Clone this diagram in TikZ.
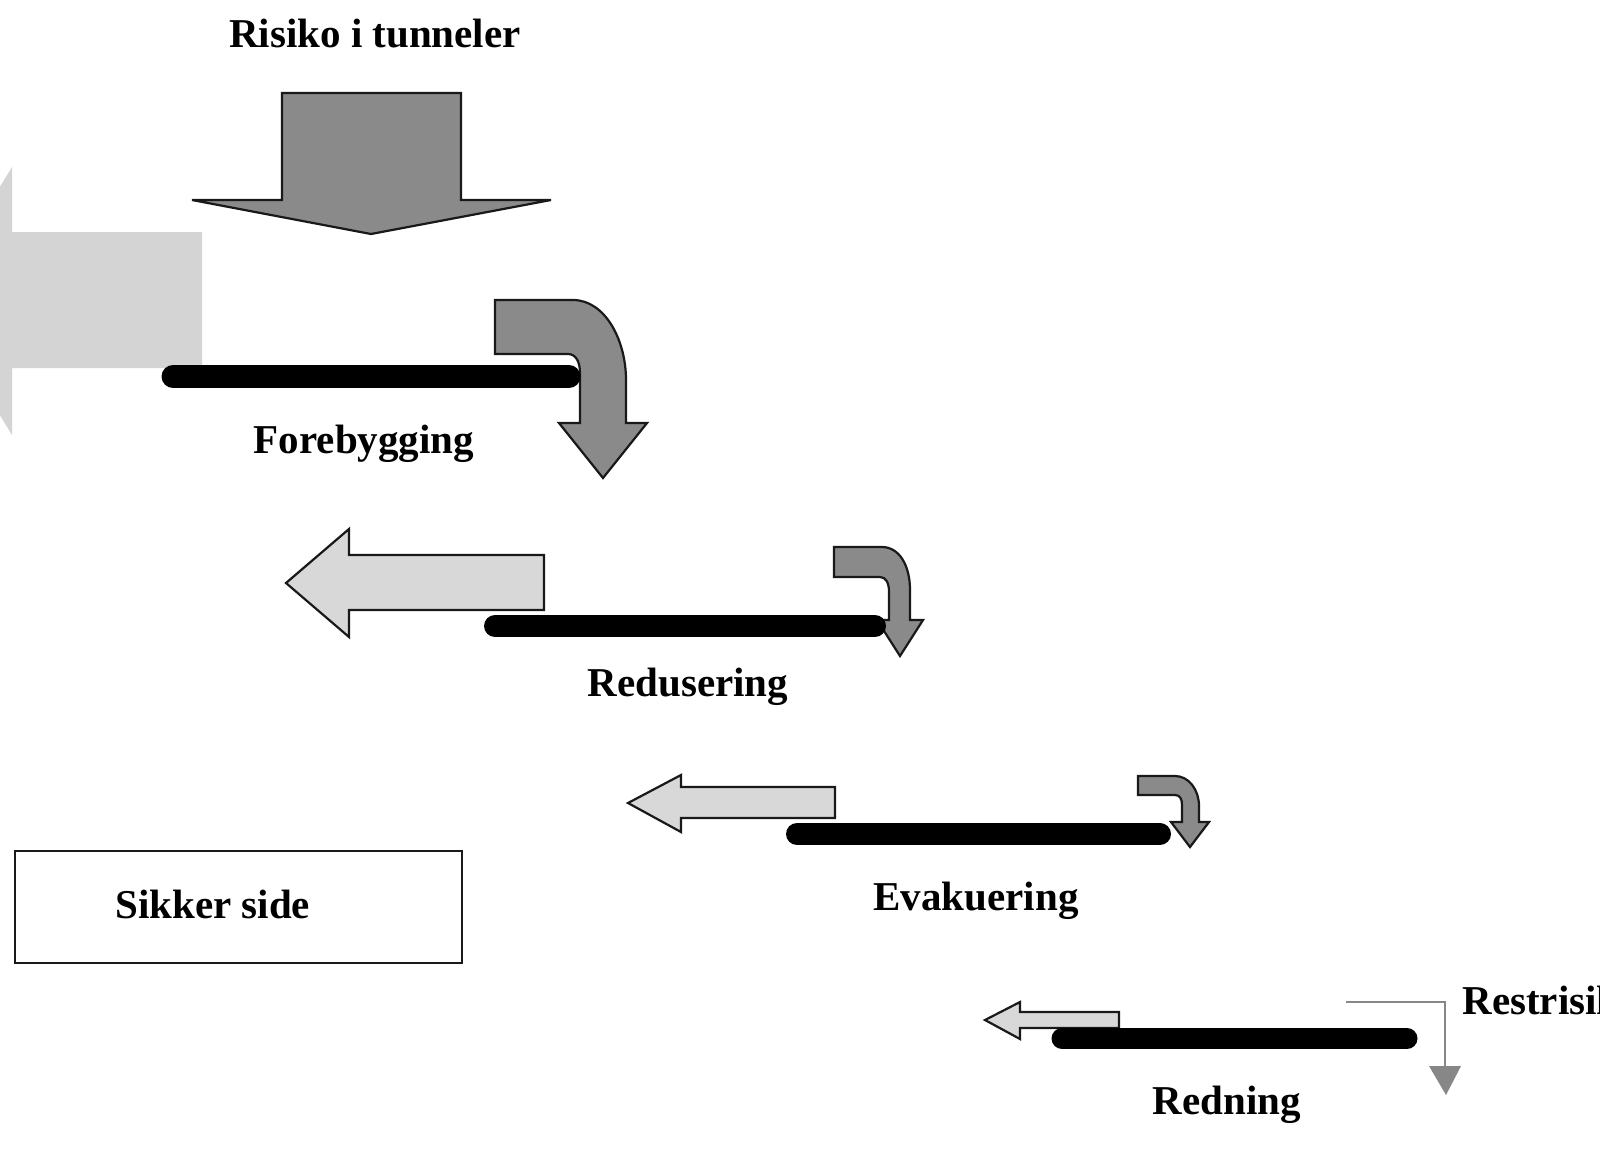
\documentclass[tikz,border=0pt]{standalone}
\usepackage{fontspec}
\setmainfont{Liberation Serif}
\begin{document}
\begin{tikzpicture}[x=0.5pt,y=-0.5pt,
  darkarrow/.style={fill=darkfill, draw=outl, line width=1.1pt, line join=miter},
  lightarrow/.style={fill=lightfill, draw=outl, line width=1.1pt, line join=miter},
  fadedarrow/.style={fill=fadefill},
  bar/.style={line cap=round, draw=black},
  lbl/.style={font=\fontsize{20.5}{24}\selectfont\bfseries, inner sep=0pt, text=black},
  thinconn/.style={draw=connc, line width=1.1pt},
  framebox/.style={draw=outl, line width=1.3pt}]
\definecolor{darkfill}{RGB}{138,138,138}
\definecolor{lightfill}{RGB}{216,216,216}
\definecolor{fadefill}{RGB}{212,212,212}
\definecolor{outl}{RGB}{25,25,25}
\definecolor{connc}{RGB}{135,135,135}
\useasboundingbox[fill=white] (0,0) rectangle (1600,1168);
\clip (0,0) rectangle (1600,1168);

% title and big down arrow
\node[lbl, anchor=base] (title) at (375,47) {Risiko i tunneler};
\draw[darkarrow] (282,93) -- (461,93) -- (461,200) -- (551,200) -- (371,234) -- (192,200) -- (282,200) -- cycle;

% faded left arrow (partly off the page)
\fill[fadedarrow] (202,232) -- (202,368) -- (12,368) -- (12,435) -- (-70,301) -- (12,167) -- (12,232) -- cycle;

% light arrows
\draw[lightarrow] (544,555) -- (544,610) -- (349,610) -- (349,637) -- (286,583) -- (349,529) -- (349,555) -- cycle;
\draw[lightarrow] (835,787) -- (835,818) -- (681,818) -- (681,832) -- (628,803) -- (681,775) -- (681,787) -- cycle;
\draw[lightarrow] (1119,1012) -- (1119,1028) -- (1020,1028) -- (1020,1039) -- (985,1020) -- (1020,1002) -- (1020,1012) -- cycle;

% curved dark arrows
\draw[darkarrow] (495,300) -- (573,300) .. controls (605,300) and (626,340) .. (626,380) -- (626,423) -- (647,423) -- (603,478) -- (559,423) -- (580,423) -- (580,373) .. controls (580,362) and (576,354) .. (568,354) -- (495,354) -- cycle;
\draw[darkarrow] (834,547) -- (882,547) .. controls (899,547) and (910,565) .. (910,590) -- (910,620) -- (923,620) -- (900,656) -- (877,620) -- (889,620) -- (889,592) .. controls (889,583) and (886,577) .. (880,577) -- (834,577) -- cycle;
\draw[darkarrow] (1138,776) -- (1175,776) .. controls (1189,776) and (1199,790) .. (1199,806) -- (1199,822) -- (1209,822) -- (1190,847) -- (1171,822) -- (1182,822) -- (1182,805) .. controls (1182,799) and (1180,795) .. (1175,795) -- (1138,795) -- cycle;

% bars
\coordinate (b1l) at (173,376.5); \coordinate (b1r) at (569,376.5);
\coordinate (b2l) at (495,626);   \coordinate (b2r) at (875,626);
\coordinate (b3l) at (797,834);   \coordinate (b3r) at (1160,834);
\coordinate (b4l) at (1062,1038.5); \coordinate (b4r) at (1407,1038.5);
\draw[bar, line width=11.5pt] (b1l) -- (b1r);
\draw[bar, line width=11pt] (b2l) -- (b2r);
\draw[bar, line width=11pt] (b3l) -- (b3r);
\draw[bar, line width=10.5pt] (b4l) -- (b4r);

% labels
\node[lbl, anchor=base] (fore) at (364,453) {Forebygging};
\node[lbl, anchor=base] (redu) at (688,696) {Redusering};
\node[lbl, anchor=base] (evak) at (976,910) {Evakuering};
\node[lbl, anchor=base] (redn) at (1227,1114) {Redning};
\node[lbl, anchor=base west] (rest) at (1462,1014) {Restrisiko};

% rest-risk connector
\coordinate (rs) at (1346,1002);
\coordinate (rc) at (1445,1002);
\coordinate (rh) at (1445,1067);
\draw[thinconn] (rs) -- (rc) -- (rh);
\fill[connc] (1429,1066) -- (1461,1066) -- (1446,1095) -- cycle;

% safe side box
\draw[framebox] (15,851) rectangle (462,963);
\node[lbl, anchor=base west] (sikker) at (115,918) {Sikker side};
\end{tikzpicture}
\end{document}
